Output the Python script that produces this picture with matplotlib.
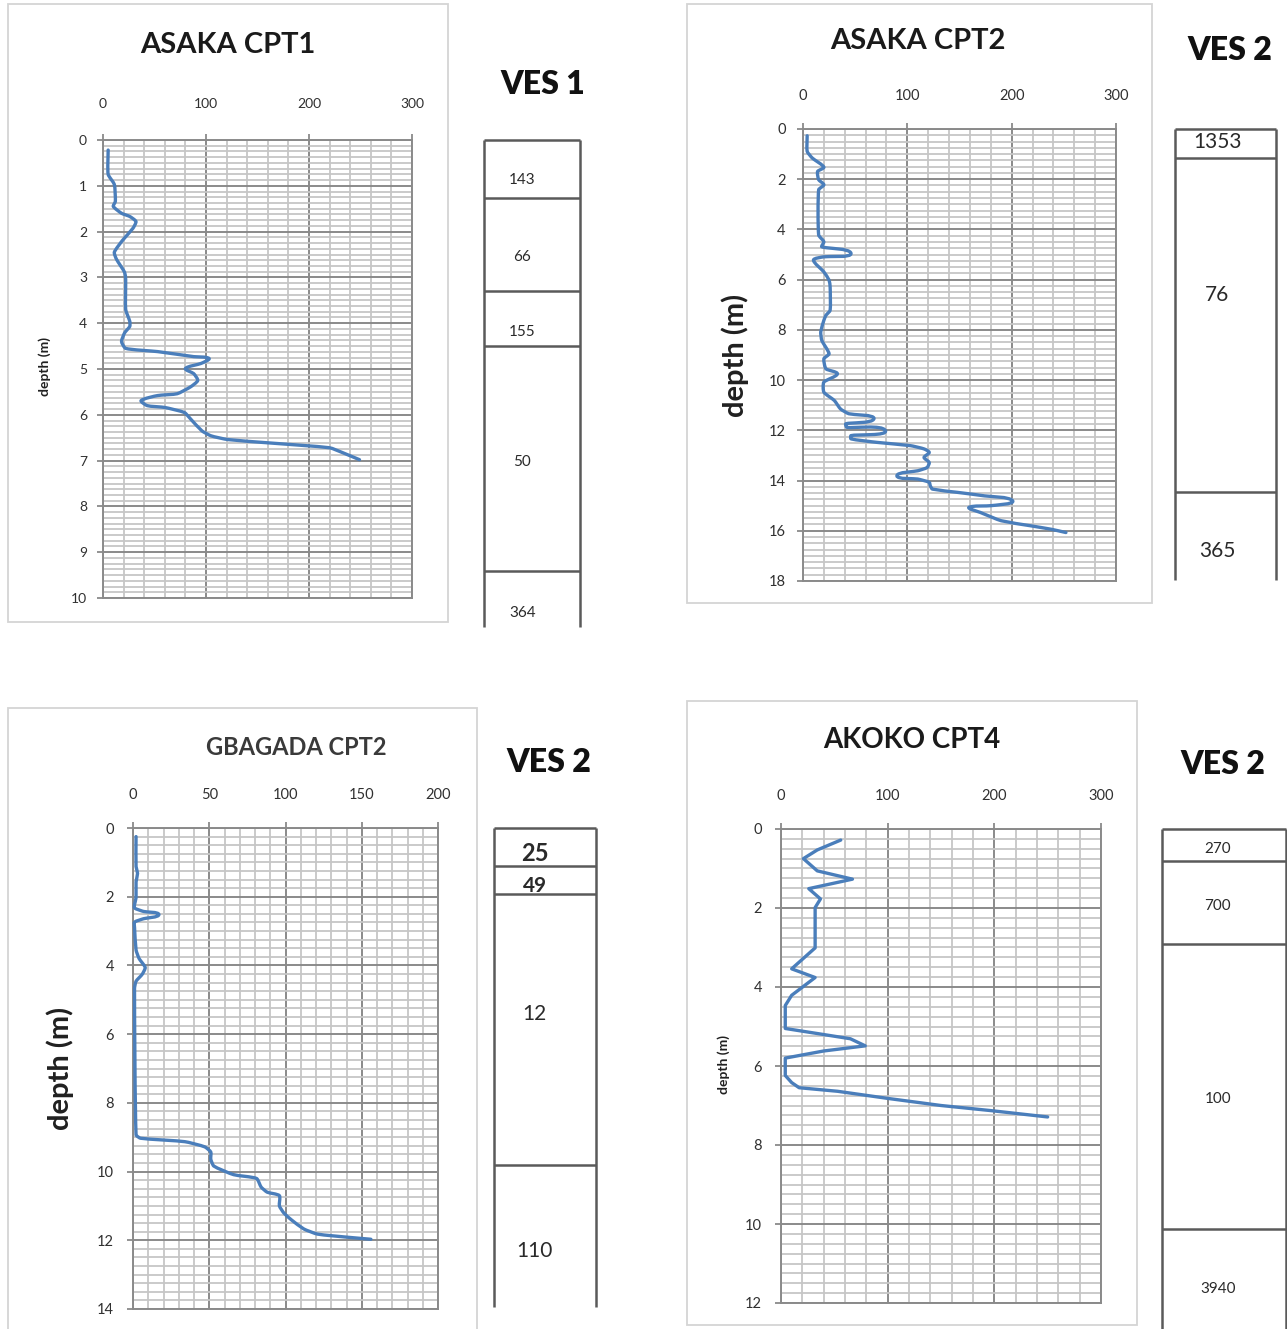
import math
import matplotlib
matplotlib.use("Agg")
import matplotlib.pyplot as plt
from matplotlib.patches import Rectangle, PathPatch
from matplotlib.path import Path
from matplotlib.ticker import MultipleLocator
import matplotlib.transforms as mtransforms

plt.rcParams['font.family'] = ['Lato', 'DejaVu Sans']

W, H = 1287, 1329

# ---------------- CPT soundings (cone resistance vs depth) ----------------
asaka1_depth = [0.22, 0.75, 0.97, 1.34, 1.45, 1.60, 1.67, 1.78, 1.93, 2.19,
                2.45, 2.60, 2.89, 3.04, 3.70, 3.96, 4.07, 4.21, 4.40, 4.55,
                4.62, 4.73, 4.77, 4.88, 4.99, 5.10, 5.25, 5.39, 5.54, 5.58,
                5.69, 5.80, 5.84, 5.95, 6.09, 6.35, 6.46, 6.54, 6.61, 6.72,
                6.83, 6.98]
asaka1_qc = [5, 5, 11, 12, 10, 18, 26, 32, 29, 19,
             11, 13, 21, 22, 22, 26, 26, 21, 18, 22,
             53, 88, 103, 95, 80, 88, 92, 85, 72, 53,
             37, 43, 60, 79, 85, 96, 105, 121, 159, 220,
             233, 249]

asaka2_depth = [0.27, 0.89, 1.16, 1.52, 1.69, 2.02, 2.22, 2.42, 4.22, 4.49,
                4.69, 4.95, 5.09, 5.22, 5.69, 6.02, 6.28, 7.22, 7.42, 7.62,
                8.08, 8.42, 8.95, 9.15, 9.55, 9.75, 10.08, 10.48, 10.81, 11.15,
                11.34, 11.54, 11.74, 11.88, 12.01, 12.21, 12.34, 12.48, 12.61, 12.74,
                12.88, 13.08, 13.28, 13.48, 13.61, 13.81, 13.94, 14.07, 14.21, 14.34,
                14.47, 14.61, 14.81, 15.00, 15.07, 15.27, 15.60, 15.80, 15.94, 16.07]
asaka2_qc = [4, 4, 9, 20, 14, 15, 20, 15, 15, 20,
             18, 46, 20, 10, 20, 25, 26, 26, 22, 20,
             17, 18, 25, 20, 22, 33, 20, 20, 30, 36,
             44, 68, 41, 42, 79, 46, 46, 71, 103, 116,
             121, 116, 121, 119, 110, 90, 110, 121, 122, 124,
             148, 174, 201, 180, 159, 170, 190, 218, 238, 252]

gbagada_depth = [0.25, 1.12, 1.32, 1.57, 2.03, 2.23, 2.33, 2.43, 2.52, 2.64,
                 2.74, 2.89, 3.55, 3.80, 4.06, 4.26, 4.46, 4.67, 8.93, 9.03,
                 9.13, 9.28, 9.43, 9.64, 9.84, 10.09, 10.20, 10.45, 10.60, 10.70,
                 11.00, 11.21, 11.41, 11.67, 11.82, 11.92, 11.97]
gbagada_qc = [2, 2, 3, 2, 2, 1, 1, 7, 17, 7,
              1, 1, 2, 4, 8, 6, 2, 1, 2, 5,
              34, 47, 51, 51, 53, 66, 81, 84, 88, 96,
              96, 99, 104, 112, 121, 143, 156]

akoko_depth = [0.28, 0.53, 0.75, 1.06, 1.27, 1.51, 1.77, 1.99, 3.01, 3.54,
               3.76, 4.21, 4.47, 5.05, 5.31, 5.49, 5.62, 5.80, 6.24, 6.42,
               6.55, 6.64, 6.82, 7.00, 7.13, 7.29]
akoko_qc = [56, 34, 21, 34, 67, 26, 37, 32, 32, 10,
            32, 10, 4, 4, 65, 79, 40, 4, 4, 10,
            17, 53, 100, 150, 197, 250]

cpt_titles = ["ASAKA CPT1", "ASAKA CPT2", "GBAGADA CPT2", "AKOKO CPT4"]

# ---------------- VES layer columns (layer tops in m, resistivity) ----------------
ves_titles = ["VES 1", "VES 2", "VES 2", "VES 2"]
ves1_tops = [0.0, 1.27, 3.30, 4.50, 9.41]
ves1_base = 10.63
ves1_res = ["143", "66", "155", "50", "364"]

ves2a_tops = [0.0, 1.16, 14.46]
ves2a_base = 17.97
ves2a_res = ["1353", "76", "365"]

ves2b_tops = [0.0, 1.10, 1.92, 9.80]
ves2b_base = 13.92
ves2b_res = ["25", "49", "12", "110"]

ves2c_tops = [0.0, 0.81, 2.91, 10.13]
ves2c_base = 12.66
ves2c_res = ["270", "700", "100", "3940"]

BLUE = "#4a7ebb"
MAJOR = "#8a8a8a"
MINOR = "#c6c6c6"
TXT = "#303030"

fig = plt.figure(figsize=(W / 100, H / 100), dpi=100)


def box(x0, y0, x1, y1):
    return [x0 / W, 1 - y1 / H, (x1 - x0) / W, (y1 - y0) / H]


def frame(x0, y0, x1, y1):
    fig.add_artist(Rectangle((x0 / W, 1 - y1 / H), (x1 - x0) / W, (y1 - y0) / H,
                             transform=fig.transFigure, fill=False,
                             edgecolor="#d4d4d4", lw=1.3))


def ftext(x, y, s, **kw):
    fig.text(x / W, 1 - y / H, s, ha="center", va="center", **kw)


def smooth_path(xs, ys, kx, ky, k=0.18):
    """Cubic Bezier path through the points, with tangents scaled by chord
    length (measured in screen-like units kx, ky) to avoid overshoot."""
    pts = [(x * kx, y * ky) for x, y in zip(xs, ys)]
    n = len(pts)

    def unit(a, b):
        dx, dy = b[0] - a[0], b[1] - a[1]
        d = math.hypot(dx, dy)
        return (0.0, 0.0) if d == 0 else (dx / d, dy / d)

    verts = [pts[0]]
    codes = [Path.MOVETO]
    for i in range(n - 1):
        p0 = pts[max(i - 1, 0)]
        p1 = pts[i]
        p2 = pts[i + 1]
        p3 = pts[min(i + 2, n - 1)]
        L = math.hypot(p2[0] - p1[0], p2[1] - p1[1])
        u1 = unit(p0, p2)
        u2 = unit(p1, p3)
        c1 = (p1[0] + u1[0] * L * k, p1[1] + u1[1] * L * k)
        c2 = (p2[0] - u2[0] * L * k, p2[1] - u2[1] * L * k)
        verts += [c1, c2, p2]
        codes += [Path.CURVE4] * 3
    verts = [(vx / kx, vy / ky) for vx, vy in verts]
    return Path(verts, codes)


def cpt_panel(px, qc, depth, xmax, xmaj, xmin, ymax, ymaj, ymin, tsize, xpad, ypad,
              smooth=True):
    ax = fig.add_axes(box(*px))
    if smooth:
        kx = (px[2] - px[0]) / xmax
        ky = (px[3] - px[1]) / ymax
        ax.add_patch(PathPatch(smooth_path(qc, depth, kx, ky), fill=False,
                               edgecolor=BLUE, lw=2.4, joinstyle="round",
                               capstyle="round", zorder=3, clip_on=False))
    else:
        ax.plot(qc, depth, color=BLUE, lw=2.4, solid_joinstyle="round",
                solid_capstyle="round", zorder=3, clip_on=False)
    ax.set_xlim(0, xmax)
    ax.set_ylim(ymax, 0)
    ax.xaxis.set_major_locator(MultipleLocator(xmaj))
    ax.xaxis.set_minor_locator(MultipleLocator(xmin))
    ax.yaxis.set_major_locator(MultipleLocator(ymaj))
    ax.yaxis.set_minor_locator(MultipleLocator(ymin))
    ax.grid(which="minor", color=MINOR, lw=1.3)
    ax.grid(which="major", color=MAJOR, lw=1.4)
    ax.set_axisbelow(True)
    ax.xaxis.tick_top()
    ax.tick_params(which="major", length=4.5, width=1.3, color=MAJOR,
                   labelsize=tsize, labelcolor=TXT)
    ax.tick_params(axis="x", which="major", pad=xpad)
    ax.tick_params(axis="y", which="major", pad=ypad)
    ax.tick_params(which="minor", length=0)
    for sp in ax.spines.values():
        sp.set_color(MAJOR)
        sp.set_linewidth(1.4)
    return ax


def ves_column(px, tops, base, labels, xfrac, sizes, weights, nudges):
    ax = fig.add_axes(box(*px))
    ax.set_xlim(0, 1)
    ax.set_ylim(base, 0)
    ax.axis("off")
    ax.vlines([0, 1], 0, base, color="#5a5a5a", lw=1.8, clip_on=False)
    ax.hlines(tops, 0, 1, color="#5a5a5a", lw=1.8, clip_on=False)
    bounds = list(tops) + [base]
    for i, lab in enumerate(labels):
        mid = (bounds[i] + bounds[i + 1]) / 2
        tr = mtransforms.offset_copy(ax.transData, fig=fig, y=-nudges[i], units="dots")
        ax.text(xfrac, mid, lab, transform=tr, ha="center", va="center",
                fontsize=sizes[i], fontweight=weights[i], color="#2a2a2a")
    return ax


# chart-area frames
frame(8, 4, 448, 622)
frame(687, 4, 1152, 603)
frame(8, 708, 477, 1340)
frame(687, 701, 1137, 1325)

# CPT panels
cpt_panel((103, 140, 412, 598), asaka1_qc, asaka1_depth, 300, 100, 20, 10, 1, 0.125, 10, 17, 7)
cpt_panel((803, 129, 1116, 581), asaka2_qc, asaka2_depth, 300, 100, 20, 18, 2, 0.25, 10.5, 14, 8)
cpt_panel((133, 828, 438, 1309), gbagada_qc, gbagada_depth, 200, 50, 10, 14, 2, 0.25, 10.5, 14, 9)
cpt_panel((781, 829, 1101, 1303), akoko_qc, akoko_depth, 300, 100, 20, 12, 2, 0.25, 10.5, 14, 9,
          smooth=False)

# titles
ftext(228, 45, cpt_titles[0], fontsize=21, fontweight="bold", color="#1a1a1a")
ftext(918, 41, cpt_titles[1], fontsize=21, fontweight="bold", color="#1a1a1a")
ftext(296, 748, cpt_titles[2], fontsize=17, fontweight="bold", color="#3a3a3a")
ftext(912, 740, cpt_titles[3], fontsize=20, fontweight="bold", color="#1a1a1a")

# depth axis labels
ftext(45, 367, "depth (m)", fontsize=10, fontweight="bold", rotation=90, color="#202020")
ftext(735, 355, "depth (m)", fontsize=21, fontweight="bold", rotation=90, color="#202020")
ftext(60, 1068, "depth (m)", fontsize=21, fontweight="bold", rotation=90, color="#202020")
ftext(724, 1065, "depth (m)", fontsize=10, fontweight="bold", rotation=90, color="#202020")

# VES headings
ftext(543, 85, ves_titles[0], fontsize=23, fontweight="heavy", color="#111111")
ftext(1230, 50, ves_titles[1], fontsize=23, fontweight="heavy", color="#111111")
ftext(549, 762, ves_titles[2], fontsize=23, fontweight="heavy", color="#111111")
ftext(1223, 765, ves_titles[3], fontsize=23, fontweight="heavy", color="#111111")

# VES columns
ves_column((484, 140, 580, 627), ves1_tops, ves1_base, ves1_res, 0.40,
           [11] * 5, ["normal"] * 5, [11, 12, 13, 3, 14])
ves_column((1175, 129, 1276, 580), ves2a_tops, ves2a_base, ves2a_res, 0.42,
           [15] * 3, ["normal"] * 3, [-2, -30, 15])
ves_column((494, 828, 596, 1307), ves2b_tops, ves2b_base, ves2b_res, 0.40,
           [17, 15, 15, 15], ["bold", "bold", "normal", "normal"], [7, 6, -16, 15])
ves_column((1162, 829, 1286, 1329), ves2c_tops, ves2c_base, ves2c_res, 0.45,
           [11] * 4, ["normal"] * 4, [4, 4, 12, 10])

fig.savefig("out.png", dpi=100, facecolor="white")
